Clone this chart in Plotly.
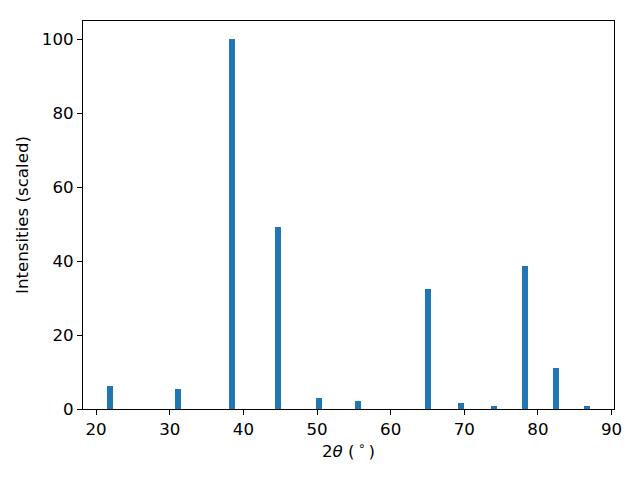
import plotly.graph_objects as go

two_theta = [21.9, 31.15, 38.5, 44.75, 50.3, 55.6, 65.05, 69.55, 74.0, 78.25, 82.45, 86.65]
intensity = [6.3, 5.5, 100.0, 49.3, 3.1, 2.3, 32.5, 1.5, 0.9, 38.7, 11.2, 0.7]

x_ticks = [20, 30, 40, 50, 60, 70, 80, 90]
y_ticks = [0, 20, 40, 60, 80, 100]

font = dict(family="DejaVu Sans", size=16.67, color="black")

fig = go.Figure(go.Bar(x=two_theta, y=intensity, width=0.8,
                       marker=dict(color="#1f77b4", line=dict(width=0))))

fig.update_layout(
    width=640, height=480,
    margin=dict(l=83, r=26, t=21, b=71, autoexpand=False),
    paper_bgcolor="white", plot_bgcolor="white",
    font=font, showlegend=False, bargap=0,
)
fig.update_xaxes(range=[18.22, 90.33], tickvals=x_ticks, ticks="outside", ticklen=5,
                 tickwidth=1.1, tickcolor="black", showline=True, linecolor="black",
                 linewidth=1.1, mirror=True, showgrid=False, zeroline=False,
                 automargin=False,
                 title=dict(text="2<i>θ</i> (\u2009<sup>∘</sup>\u2009)", font=font, standoff=6))
fig.update_yaxes(range=[0, 105], tickvals=y_ticks, ticks="outside", ticklen=5,
                 tickwidth=1.1, tickcolor="black", showline=True, linecolor="black",
                 linewidth=1.1, mirror=True, showgrid=False, zeroline=False,
                 automargin=False,
                 title=dict(text="Intensities (scaled)", font=font, standoff=8))

fig.write_html("out.html", config={"displayModeBar": False},
               post_script="document.body.style.margin='0';document.body.style.padding='0';")
